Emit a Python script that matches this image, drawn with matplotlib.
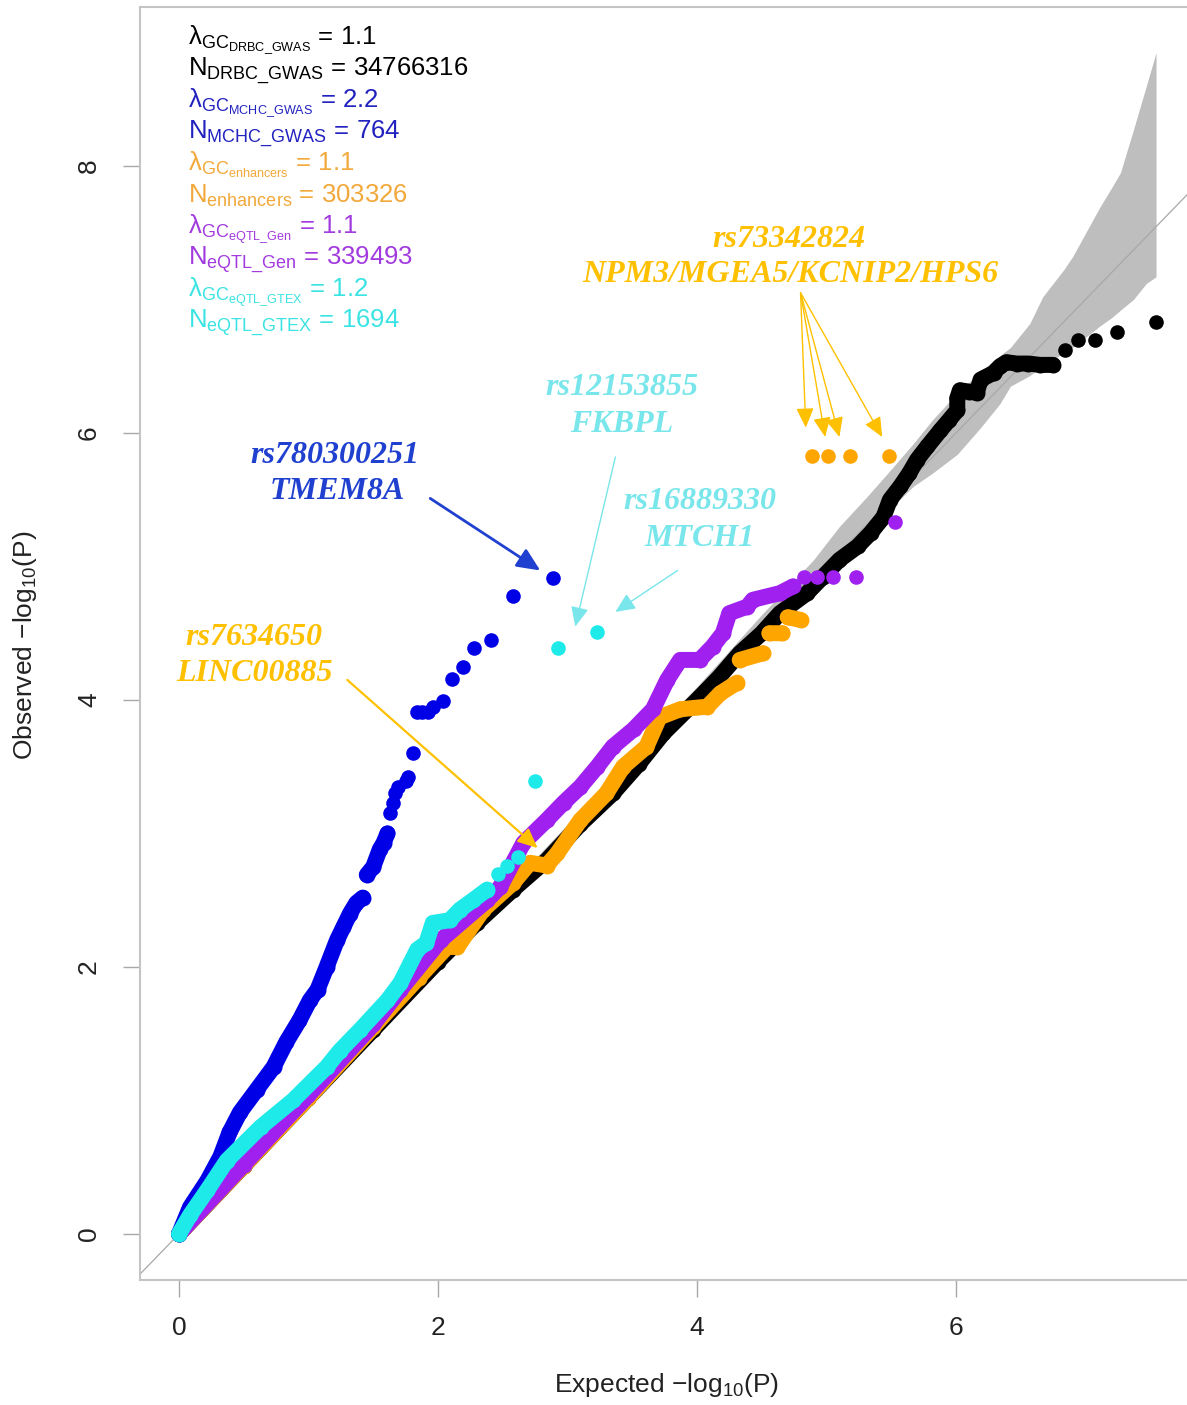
import numpy as np
import matplotlib
matplotlib.use("Agg")
import matplotlib.pyplot as plt

plt.rcParams['font.family'] = ['Liberation Sans', 'DejaVu Sans']
plt.rcParams['mathtext.fontset'] = 'custom'
plt.rcParams['mathtext.rm'] = 'Liberation Sans'
plt.rcParams['mathtext.it'] = 'Liberation Sans:italic'
plt.rcParams['mathtext.bf'] = 'Liberation Sans:bold'

nan = np.nan

# ---------------- data ----------------
# confidence band
band_x = [0, 1.0, 2.0, 3.0, 3.5, 4.0, 4.5, 4.9, 5.1, 5.31, 5.51, 5.67, 5.82, 6.01, 6.19, 6.34,
          6.42, 6.57, 6.67, 6.83, 6.90, 7.11, 7.21, 7.27, 7.37, 7.47, 7.545]
band_lo = [0, 0.99, 1.98, 2.96, 3.45, 3.95, 4.45, 4.85, 5.05, 5.25, 5.45, 5.60, 5.70, 5.84, 6.04, 6.22,
           6.35, 6.43, 6.50, 6.60, 6.64, 6.80, 6.87, 6.92, 7.00, 7.12, 7.17]
band_hi = [0, 1.02, 2.04, 3.07, 3.60, 4.10, 4.64, 5.05, 5.30, 5.52, 5.74, 5.92, 6.10, 6.30, 6.46, 6.58,
           6.64, 6.82, 7.02, 7.22, 7.32, 7.69, 7.85, 7.95, 8.27, 8.60, 8.85]

# DRBC GWAS (black)
black_line_x = [0, 0.5, 1.0, 1.5, 2.0, 2.3, 2.58, 2.84, 3.1, 3.35, 3.55, 3.74, 4.0, 4.17, 4.33, 4.5,
                4.64, 4.85, 4.97, 5.10, 5.24, 5.34, 5.44, 5.49, 5.57, 5.64, 5.70, 5.78, 5.88, 5.95,
                6.01, 6.01, 6.03, 6.10, 6.16, 6.19, 6.29, 6.34, 6.39, 6.47, 6.56, 6.65, 6.75]
black_line_y = [0, 0.51, 1.02, 1.53, 2.04, 2.33, 2.58, 2.80, 3.07, 3.30, 3.52, 3.75, 4.0, 4.17, 4.35, 4.50,
                4.65, 4.80, 4.92, 5.05, 5.15, 5.25, 5.37, 5.50, 5.60, 5.70, 5.80, 5.90, 6.02, 6.10,
                6.17, 6.26, 6.32, 6.31, 6.30, 6.40, 6.45, 6.50, 6.53, 6.52, 6.52, 6.51, 6.51]
black_pts_x = [6.84, 6.94, 7.07, 7.24, 7.545]
black_pts_y = [6.62, 6.70, 6.70, 6.76, 6.83]

# enhancers (orange)
orange_line_x = [0, 0.5, 1.0, 1.5, 1.85, 2.07, 2.15, 2.35, 2.58, 2.71, 2.84, 2.92, 3.10, 3.30, 3.43,
                 3.61, 3.71, 3.87, 4.08, 4.18, 4.31, nan, 4.33, 4.51, nan, 4.56, 4.66, nan, 4.70, 4.80]
orange_line_y = [0, 0.51, 1.02, 1.55, 1.92, 2.15, 2.15, 2.43, 2.63, 2.78, 2.76, 2.85, 3.10, 3.30, 3.50,
                 3.65, 3.87, 3.93, 3.95, 4.05, 4.13, nan, 4.30, 4.35, nan, 4.50, 4.50, nan, 4.62, 4.60]
orange_pts_x = [4.89, 5.01, 5.18, 5.48]
orange_pts_y = [5.83, 5.83, 5.83, 5.83]

# eQTL Gen (purple)
purple_line_x = [0, 0.5, 1.0, 1.5, 1.71, 2.02, 2.38, 2.48, 2.66, 2.84, 2.97, 3.10, 3.23, 3.35, 3.51,
                 3.66, 3.77, 3.87, 4.02, 4.12, 4.20, 4.25, 4.39, 4.43, 4.64, 4.74]
purple_line_y = [0, 0.52, 1.04, 1.57, 1.83, 2.20, 2.50, 2.60, 2.93, 3.10, 3.23, 3.35, 3.50, 3.65, 3.78,
                 3.93, 4.15, 4.30, 4.30, 4.40, 4.50, 4.65, 4.70, 4.75, 4.80, 4.85]
purple_pts_x = [4.83, 4.93, 5.05, 5.23, 5.53]
purple_pts_y = [4.92, 4.92, 4.92, 4.92, 5.33]

# MCHC GWAS (blue)
blue_line_x = [0.0, 0.085, 0.22, 0.32, 0.39, 0.47, 0.60, 0.73, 0.83, 0.93, 1.01, 1.07, 1.14, 1.22,
               1.27, 1.32, 1.37, 1.42, nan, 1.45, 1.50, 1.55, 1.58, 1.61]
blue_line_y = [0.0, 0.20, 0.40, 0.58, 0.76, 0.91, 1.08, 1.25, 1.44, 1.60, 1.75, 1.83, 2.0, 2.20,
               2.30, 2.40, 2.48, 2.52, nan, 2.69, 2.75, 2.88, 2.93, 3.00]
blue_pts_x = [1.63, 1.65, 1.67, 1.69, 1.75, 1.77, 1.81, 1.84, 1.88, 1.92, 1.96, 2.04, 2.11, 2.19,
              2.28, 2.41, 2.58, 2.89]
blue_pts_y = [3.15, 3.23, 3.30, 3.35, 3.39, 3.42, 3.60, 3.91, 3.91, 3.91, 3.95, 3.99, 4.16, 4.25,
              4.39, 4.45, 4.78, 4.91]

# eQTL GTEX (cyan)
cyan_line_x = [0, 0.085, 0.22, 0.37, 0.63, 0.88, 1.14, 1.24, 1.40, 1.61, 1.71, 1.84, 1.91, 1.96,
               2.09, 2.17, 2.27, 2.38]
cyan_line_y = [0, 0.14, 0.33, 0.55, 0.80, 1.0, 1.25, 1.37, 1.53, 1.75, 1.88, 2.13, 2.18, 2.33,
               2.35, 2.43, 2.50, 2.58]
cyan_pts_x = [2.46, 2.53, 2.62, 2.75, 2.93, 3.23]
cyan_pts_y = [2.70, 2.76, 2.82, 3.39, 4.39, 4.51]

stat_labels = [r'$\mathrm{λ}_{\mathrm{GC}_{\mathrm{DRBC\_GWAS}}}$ = 1.1',
               r'N$_{\mathrm{DRBC\_GWAS}}$ = 34766316',
               r'$\mathrm{λ}_{\mathrm{GC}_{\mathrm{MCHC\_GWAS}}}$ = 2.2',
               r'N$_{\mathrm{MCHC\_GWAS}}$ = 764',
               r'$\mathrm{λ}_{\mathrm{GC}_{\mathrm{enhancers}}}$ = 1.1',
               r'N$_{\mathrm{enhancers}}$ = 303326',
               r'$\mathrm{λ}_{\mathrm{GC}_{\mathrm{eQTL\_Gen}}}$ = 1.1',
               r'N$_{\mathrm{eQTL\_Gen}}$ = 339493',
               r'$\mathrm{λ}_{\mathrm{GC}_{\mathrm{eQTL\_GTEX}}}$ = 1.2',
               r'N$_{\mathrm{eQTL\_GTEX}}$ = 1694']
stat_colors = ['#000000', '#000000', '#2222C0', '#2222C0', '#F2A83A', '#F2A83A',
               '#A23BDF', '#A23BDF', '#3CE3E3', '#3CE3E3']

x_ticks = [0, 2, 4, 6]
y_ticks = [0, 2, 4, 6, 8]

# ---------------- figure ----------------
W, H = 1187, 1405
fig = plt.figure(figsize=(W / 100, H / 100), dpi=100)
ax = fig.add_axes([140 / W, (H - 1280) / H, 1047 / W, (1280 - 7) / H])
ax.set_xlim(-0.301, 7.784)
ax.set_ylim(-0.345, 9.191)

ax.fill_between(band_x, band_lo, band_hi, color='#BEBEBE', lw=0, zorder=1)
ax.plot([-1, 10], [-1, 10], color='#A8A8A8', lw=0.9, zorder=1.5)

MS = 10.5
LW = 11.5
def draw(lx, ly, px, py, color, z):
    ax.plot(lx, ly, '-', color=color, lw=LW, solid_capstyle='round',
            solid_joinstyle='round', zorder=z)
    ax.plot(lx, ly, 'o', color=color, ms=MS + 1, mec='none', zorder=z)
    ax.plot(px, py, 'o', color=color, ms=MS, mec='none', zorder=z)

draw(black_line_x, black_line_y, black_pts_x, black_pts_y, '#000000', 2)
draw(orange_line_x, orange_line_y, orange_pts_x, orange_pts_y, '#FFA500', 3)
draw(purple_line_x, purple_line_y, purple_pts_x, purple_pts_y, '#A020F0', 4)
draw(blue_line_x, blue_line_y, blue_pts_x, blue_pts_y, '#0000E6', 5)
draw(cyan_line_x, cyan_line_y, cyan_pts_x, cyan_pts_y, '#1EEAEA', 6)

# stats text
for i, (s, c) in enumerate(zip(stat_labels, stat_colors)):
    ax.text(0.07, 8.906 - i * 0.236, s, color=c, fontsize=18.5, ha='left', va='baseline', zorder=10)

# annotations
afont = dict(family='Liberation Serif', fontweight='bold', fontstyle='italic', fontsize=23)
c_or = '#FFC000'
c_bl = '#2040D0'
c_cy = '#78E6EA'
ann = [("rs73342824", 4.71, 7.45, c_or), ("NPM3/MGEA5/KCNIP2/HPS6", 4.72, 7.19, c_or),
       ("rs12153855", 3.42, 6.34, c_cy), ("FKBPL", 3.42, 6.06, c_cy),
       ("rs780300251", 1.205, 5.83, c_bl), ("TMEM8A", 1.22, 5.56, c_bl),
       ("rs16889330", 4.02, 5.49, c_cy), ("MTCH1", 4.02, 5.21, c_cy),
       ("rs7634650", 0.58, 4.47, c_or), ("LINC00885", 0.58, 4.20, c_or)]
for s, x, y, c in ann:
    ax.text(x, y, s, color=c, ha='center', va='center', zorder=10, **afont)

def arrow(x0, y0, x1, y1, c, lw, ms):
    ax.annotate('', xy=(x1, y1), xytext=(x0, y0),
                arrowprops=dict(arrowstyle='-|>,head_length=1.0,head_width=0.45', color=c,
                                lw=lw, mutation_scale=ms, shrinkA=0, shrinkB=0), zorder=9)

arrow(1.94, 5.51, 2.79, 4.97, c_bl, 2.0, 14)
arrow(3.37, 5.82, 3.06, 4.55, c_cy, 1.0, 12)
arrow(3.85, 4.97, 3.37, 4.66, c_cy, 1.0, 12)
arrow(1.30, 4.15, 2.77, 2.89, c_or, 1.6, 12)
for tx, ty in [(4.84, 6.04), (4.99, 5.97), (5.10, 5.97), (5.43, 5.97)]:
    arrow(4.80, 7.05, tx, ty, c_or, 1.0, 12)

# axes styling
for side in ['left', 'bottom', 'top']:
    ax.spines[side].set_color('#C4C4C4')
    ax.spines[side].set_linewidth(1.5)
ax.spines['right'].set_visible(False)
ax.set_xticks(x_ticks)
ax.set_yticks(y_ticks)
ax.set_xticklabels([str(t) for t in x_ticks])
ax.set_yticklabels([str(t) for t in y_ticks], rotation=90, va='center')
ax.tick_params(axis='both', length=12, width=1, color='#A8A8A8', labelsize=19, labelcolor='#222222')
ax.tick_params(axis='x', pad=14)
ax.tick_params(axis='y', pad=16)

fig.text(667 / W, 1 - 1385 / H, r'Expected $-\mathrm{log}_{10}\mathrm{(P)}$', fontsize=19,
         color='#222222', ha='center', va='center')
fig.text(25 / W, 1 - 645 / H, r'Observed $-\mathrm{log}_{10}\mathrm{(P)}$', fontsize=19,
         color='#222222', ha='center', va='center', rotation=90)

fig.savefig('out.png', dpi=100)
